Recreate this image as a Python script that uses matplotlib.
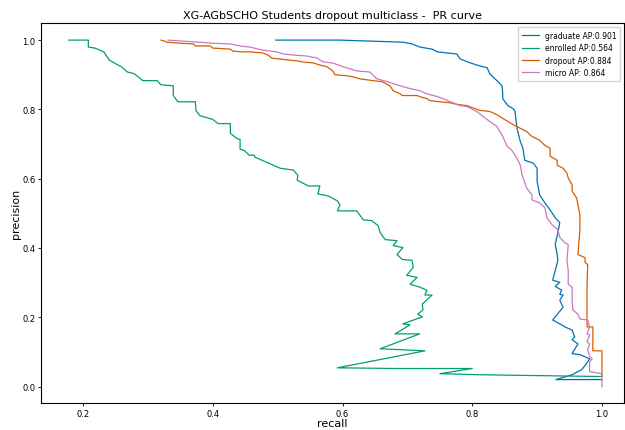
import matplotlib
matplotlib.use('Agg')
import matplotlib.pyplot as plt

# recall / precision pairs
graduate_recall = [0.497, 0.596, 0.693, 0.707, 0.719, 0.738, 0.746, 0.761, 0.776, 0.781,
                   0.793, 0.807, 0.823, 0.827, 0.838, 0.846, 0.847, 0.847, 0.855, 0.863,
                   0.866, 0.869, 0.874, 0.878, 0.881, 0.894, 0.900, 0.900, 0.904, 0.912,
                   0.920, 0.928, 0.935, 0.932, 0.928, 0.931, 0.932, 0.928, 0.924, 0.935,
                   0.928, 0.938, 0.935, 0.940, 0.935, 0.940, 0.924, 0.935, 0.943, 0.954,
                   0.958, 0.954, 0.963, 0.954, 0.966, 0.981, 0.977, 0.969, 0.954, 0.929, 1.0]
graduate_precision = [1.0, 1.0, 0.994, 0.989, 0.980, 0.974, 0.966, 0.963, 0.960, 0.946,
                      0.937, 0.928, 0.920, 0.903, 0.883, 0.868, 0.845, 0.831, 0.811, 0.802,
                      0.794, 0.745, 0.708, 0.688, 0.653, 0.645, 0.630, 0.593, 0.553, 0.530,
                      0.510, 0.487, 0.473, 0.444, 0.410, 0.381, 0.364, 0.335, 0.307, 0.301,
                      0.289, 0.278, 0.266, 0.264, 0.249, 0.229, 0.192, 0.181, 0.172, 0.163,
                      0.143, 0.135, 0.123, 0.095, 0.092, 0.080, 0.069, 0.049, 0.034, 0.020, 0.020]

enrolled_recall = [0.178, 0.208, 0.208, 0.218, 0.232, 0.240, 0.248, 0.259, 0.268, 0.279,
                   0.292, 0.314, 0.320, 0.339, 0.339, 0.346, 0.373, 0.374, 0.380, 0.400,
                   0.408, 0.427, 0.427, 0.437, 0.442, 0.442, 0.448, 0.456, 0.464, 0.465,
                   0.504, 0.524, 0.531, 0.530, 0.547, 0.565, 0.562, 0.578, 0.592, 0.596,
                   0.592, 0.622, 0.632, 0.645, 0.655, 0.658, 0.666, 0.684, 0.678, 0.693,
                   0.684, 0.692, 0.707, 0.709, 0.699, 0.715, 0.704, 0.719, 0.730, 0.727,
                   0.738, 0.723, 0.724, 0.716, 0.723, 0.693, 0.704, 0.681, 0.719, 0.658,
                   0.727, 0.592, 0.684, 0.800, 0.750, 0.812, 0.992, 1.0]
enrolled_precision = [1.0, 1.0, 0.980, 0.977, 0.966, 0.943, 0.934, 0.923, 0.908, 0.903,
                      0.883, 0.883, 0.871, 0.868, 0.840, 0.822, 0.822, 0.797, 0.782, 0.771,
                      0.759, 0.759, 0.731, 0.716, 0.713, 0.685, 0.682, 0.668, 0.668, 0.662,
                      0.630, 0.625, 0.610, 0.596, 0.579, 0.579, 0.556, 0.550, 0.536, 0.524,
                      0.507, 0.507, 0.481, 0.479, 0.464, 0.444, 0.424, 0.421, 0.407, 0.401,
                      0.381, 0.367, 0.364, 0.344, 0.321, 0.315, 0.295, 0.287, 0.278, 0.264,
                      0.264, 0.238, 0.221, 0.209, 0.201, 0.181, 0.178, 0.152, 0.152, 0.109,
                      0.103, 0.054, 0.052, 0.052, 0.037, 0.034, 0.029, 0.029]

dropout_recall = [0.320, 0.326, 0.329, 0.350, 0.370, 0.373, 0.396, 0.400, 0.427, 0.431,
                  0.445, 0.457, 0.477, 0.485, 0.491, 0.514, 0.530, 0.538, 0.555, 0.565,
                  0.576, 0.585, 0.588, 0.607, 0.616, 0.627, 0.647, 0.661, 0.673, 0.678,
                  0.689, 0.692, 0.715, 0.719, 0.730, 0.735, 0.750, 0.766, 0.778, 0.792,
                  0.800, 0.812, 0.827, 0.838, 0.847, 0.863, 0.884, 0.892, 0.904, 0.912,
                  0.920, 0.920, 0.931, 0.931, 0.940, 0.946, 0.948, 0.954, 0.954, 0.961,
                  0.963, 0.966, 0.966, 0.963, 0.974, 0.974, 0.978, 0.977, 0.977, 0.986,
                  0.986, 1.0, 1.0]
dropout_precision = [1.0, 0.997, 0.994, 0.991, 0.989, 0.983, 0.983, 0.977, 0.974, 0.968,
                     0.966, 0.966, 0.963, 0.957, 0.948, 0.943, 0.940, 0.937, 0.934, 0.928,
                     0.923, 0.911, 0.900, 0.897, 0.894, 0.888, 0.883, 0.880, 0.868, 0.854,
                     0.845, 0.840, 0.840, 0.837, 0.831, 0.825, 0.822, 0.819, 0.814, 0.811,
                     0.805, 0.797, 0.794, 0.785, 0.774, 0.756, 0.736, 0.722, 0.711, 0.696,
                     0.688, 0.665, 0.653, 0.639, 0.630, 0.616, 0.602, 0.582, 0.564, 0.544,
                     0.524, 0.496, 0.453, 0.381, 0.372, 0.358, 0.352, 0.292, 0.172, 0.172,
                     0.103, 0.103, 0.029]

micro_recall = [0.331, 0.354, 0.380, 0.400, 0.427, 0.442, 0.457, 0.477, 0.499, 0.508,
                0.524, 0.545, 0.561, 0.570, 0.585, 0.601, 0.622, 0.642, 0.653, 0.669,
                0.689, 0.704, 0.719, 0.730, 0.746, 0.755, 0.766, 0.781, 0.792, 0.807,
                0.817, 0.827, 0.838, 0.847, 0.854, 0.861, 0.869, 0.874, 0.877, 0.884,
                0.892, 0.892, 0.904, 0.912, 0.915, 0.923, 0.932, 0.935, 0.943, 0.948,
                0.946, 0.948, 0.948, 0.954, 0.954, 0.955, 0.963, 0.966, 0.978, 0.981,
                0.977, 0.981, 0.977, 0.981, 0.978, 0.981, 0.985, 0.981, 0.981, 1.0, 1.0]
micro_precision = [1.0, 0.997, 0.994, 0.991, 0.989, 0.983, 0.980, 0.971, 0.966, 0.960,
                   0.957, 0.954, 0.948, 0.937, 0.934, 0.923, 0.911, 0.908, 0.888, 0.880,
                   0.868, 0.860, 0.854, 0.845, 0.837, 0.831, 0.822, 0.811, 0.808, 0.794,
                   0.779, 0.765, 0.751, 0.722, 0.693, 0.682, 0.659, 0.639, 0.610, 0.573,
                   0.553, 0.539, 0.530, 0.516, 0.487, 0.467, 0.453, 0.430, 0.415, 0.410,
                   0.364, 0.335, 0.295, 0.287, 0.249, 0.221, 0.209, 0.195, 0.192, 0.172,
                   0.152, 0.149, 0.129, 0.123, 0.106, 0.086, 0.080, 0.072, 0.043, 0.037, 0.0]

labels = ['graduate AP:0.901', 'enrolled AP:0.564', 'dropout AP:0.884', 'micro AP: 0.864']
colors = ['#0173b2', '#029e73', '#d55e00', '#cc78bc']

fig = plt.figure(figsize=(6.25, 4.31), dpi=100)
ax = fig.add_axes([0.0656, 0.0615, 0.9328, 0.8825])

curves = [(graduate_recall, graduate_precision),
          (enrolled_recall, enrolled_precision),
          (dropout_recall, dropout_precision),
          (micro_recall, micro_precision)]
for (r, p), lab, c in zip(curves, labels, colors):
    ax.plot(r, p, color=c, lw=0.9, label=lab)

ax.set_xlim(0.135, 1.034)
ax.set_ylim(-0.049, 1.049)
ax.set_xticks([0.2, 0.4, 0.6, 0.8, 1.0])
ax.set_yticks([0.0, 0.2, 0.4, 0.6, 0.8, 1.0])
ax.tick_params(labelsize=6, length=2.5, width=0.6, pad=1.5)
for s in ax.spines.values():
    s.set_linewidth(0.8)
ax.set_xlabel('recall', fontsize=8, labelpad=0)
ax.set_ylabel('precision', fontsize=8, labelpad=1)
ax.set_title('XG-AGbSCHO Students dropout multiclass -  PR curve', fontsize=8, pad=3.5)
ax.legend(loc='upper right', fontsize=5.5, frameon=True, fancybox=False,
          edgecolor='#cccccc', handlelength=2.2, borderpad=0.5, labelspacing=0.45)

plt.savefig('out.png', dpi=100)
